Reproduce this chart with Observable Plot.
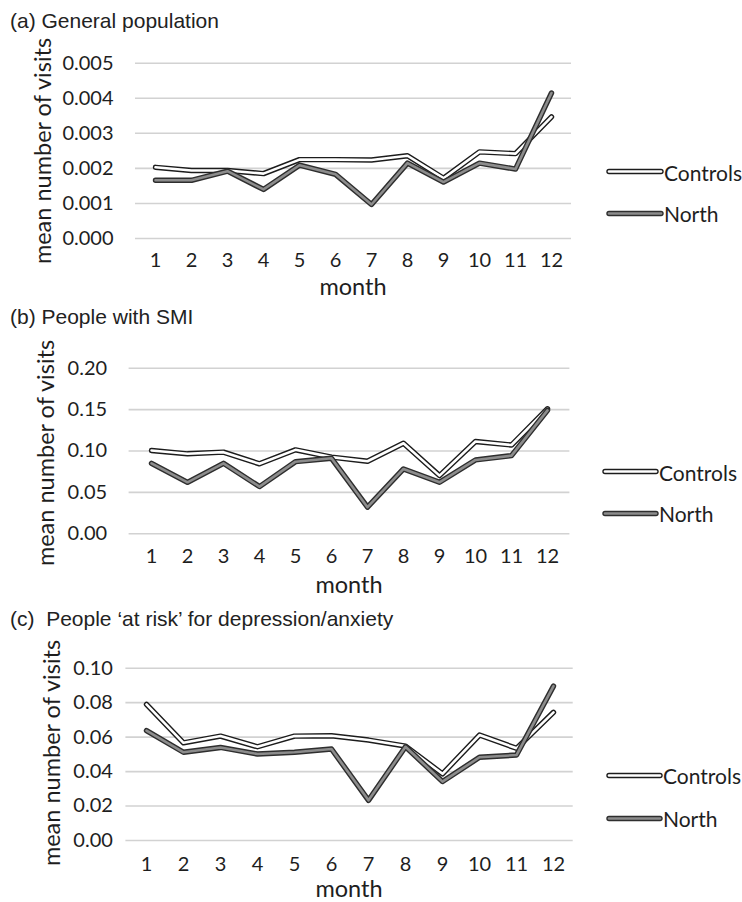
<!DOCTYPE html>
<html>
<head>
<meta charset="utf-8">
<script src="https://cdn.jsdelivr.net/npm/d3@7"></script>
<script src="https://cdn.jsdelivr.net/npm/@observablehq/plot@0.6"></script>
<style>
  body { margin: 0; background: #fff; }
  #root { position: relative; width: 742px; height: 902px; overflow: hidden; font-family: Lato, sans-serif; color: #1e1e1e; }
  .abs { position: absolute; }
  .title { font-family: "Liberation Sans", Arial, sans-serif; font-size: 21px; white-space: pre; transform: translateY(-50%); color: #222; }
  .ylab { font-size: 23.5px; line-height: 1.1; white-space: nowrap; transform: translate(-50%, -50%) rotate(-90deg); }
  .xlab { font-size: 23.5px; line-height: 1; white-space: nowrap; transform: translate(-50%, -50%); }
  .leg { display: flex; align-items: center; font-size: 21px; transform: translateY(-50%); }
  .leg svg { display: block; }
  svg.plot { position: absolute; left: 0; }
</style>
</head>
<body>
<div id="root"></div>
<script>
// ---------- data ----------
const months = [1, 2, 3, 4, 5, 6, 7, 8, 9, 10, 11, 12];
const seriesNames = ["Controls", "North"];

const generalControls = [0.00203, 0.00194, 0.00194, 0.00185, 0.00225, 0.00225, 0.00224, 0.00236, 0.00172, 0.00247, 0.00242, 0.00347];
const generalNorth    = [0.00166, 0.00166, 0.00192, 0.00140, 0.00209, 0.00183, 0.00097, 0.00215, 0.00161, 0.00215, 0.00198, 0.00415];

const smiControls = [0.1006, 0.0966, 0.0986, 0.0845, 0.1014, 0.0926, 0.0876, 0.1094, 0.0703, 0.1114, 0.1072, 0.1510];
const smiNorth    = [0.0851, 0.0622, 0.0851, 0.0570, 0.0871, 0.0912, 0.0321, 0.0783, 0.0622, 0.0892, 0.0944, 0.1490];

const riskControls = [0.0790, 0.0567, 0.0606, 0.0544, 0.0606, 0.0608, 0.0583, 0.0548, 0.0387, 0.0612, 0.0535, 0.0744];
const riskNorth    = [0.0638, 0.0512, 0.0540, 0.0502, 0.0512, 0.0531, 0.0233, 0.0544, 0.0342, 0.0483, 0.0496, 0.0896];

const generalTicks = [0, 0.001, 0.002, 0.003, 0.004, 0.005];
const smiTicks = [0, 0.05, 0.10, 0.15, 0.20];
const riskTicks = [0, 0.02, 0.04, 0.06, 0.08, 0.10];

const panelTitles = [
  "(a) General population",
  "(b) People with SMI",
  "(c)  People \u2018at risk\u2019 for depression/anxiety"
];
const yAxisLabel = "mean number of visits";
const xAxisLabel = "month";

// ---------- styles ----------
const seriesStyle = {
  Controls: { outer: "#1c1c1c", inner: "#ffffff" },
  North:    { outer: "#2e2e2e", inner: "#8c8c8c" }
};
const OUTER_W = 5.4, INNER_W = 2.6;

// ---------- layout ----------
const panels = [
  { title: panelTitles[0], controls: generalControls, north: generalNorth, ticks: generalTicks, fmt: ".3f",
    top: 0, height: 300, mt: 62.7, mb: 62, ml: 135, mr: 742 - 571, tickPad: 22, xPad: 14,
    titleY: 21, ylab: [43, 151], xlab: [353, 287],
    legend: { x: 606, line: 56, items: [171.7, 213] } },
  { title: panelTitles[1], controls: smiControls, north: smiNorth, ticks: smiTicks, fmt: ".2f",
    top: 300, height: 300, mt: 67.7, mb: 66.7, ml: 128.6, mr: 742 - 569.4, tickPad: 22, xPad: 15,
    titleY: 317, ylab: [46, 453], xlab: [349, 585],
    legend: { x: 602, line: 55, items: [471.7, 513] } },
  { title: panelTitles[2], controls: riskControls, north: riskNorth, ticks: riskTicks, fmt: ".2f",
    top: 600, height: 302, mt: 67.7, mb: 62, ml: 125.4, mr: 742 - 572.7, tickPad: 13, xPad: 16,
    titleY: 619, ylab: [52, 753], xlab: [349, 889],
    legend: { x: 606, line: 55, items: [775, 818] } }
];

const root = document.getElementById("root");

function toRows(arr) { return months.map((m, i) => ({ month: m, value: arr[i] })); }

function seriesMarks(rows, name) {
  const s = seriesStyle[name];
  return [
    Plot.line(rows, { x: "month", y: "value", stroke: s.outer, strokeWidth: OUTER_W, strokeLinecap: "round", strokeLinejoin: "round" }),
    Plot.line(rows, { x: "month", y: "value", stroke: s.inner, strokeWidth: INNER_W, strokeLinecap: "round", strokeLinejoin: "round" })
  ];
}

function legendSwatch(name, len) {
  const s = seriesStyle[name];
  const ns = "http://www.w3.org/2000/svg";
  const svg = document.createElementNS(ns, "svg");
  svg.setAttribute("width", len + 2);
  svg.setAttribute("height", 10);
  for (const [c, w] of [[s.outer, OUTER_W], [s.inner, INNER_W]]) {
    const l = document.createElementNS(ns, "line");
    l.setAttribute("x1", 3); l.setAttribute("x2", len - 1);
    l.setAttribute("y1", 5); l.setAttribute("y2", 5);
    l.setAttribute("stroke", c); l.setAttribute("stroke-width", w);
    l.setAttribute("stroke-linecap", "round");
    svg.appendChild(l);
  }
  return svg;
}

for (const p of panels) {
  const chart = Plot.plot({
    width: 742,
    height: p.height,
    marginLeft: p.ml,
    marginRight: p.mr,
    marginTop: p.mt,
    marginBottom: p.mb,
    style: { fontFamily: "Lato, sans-serif", fontSize: "20px", color: "#1e1e1e", background: "transparent", overflow: "visible" },
    x: { type: "point", domain: months, padding: 0.5 },
    y: { domain: [p.ticks[0], p.ticks[p.ticks.length - 1]] },
    marks: [
      Plot.gridY(p.ticks, { stroke: "#d2d2d2", strokeOpacity: 1, strokeWidth: 1.6 }),
      Plot.axisY(p.ticks, { tickSize: 0, tickPadding: p.tickPad, tickFormat: d3.format(p.fmt), label: null, fontSize: 20 }),
      Plot.axisX(months, { tickSize: 0, tickPadding: p.xPad, label: null, fontSize: 20 }),
      ...seriesMarks(toRows(p.controls), "Controls"),
      ...seriesMarks(toRows(p.north), "North")
    ]
  });
  chart.classList.add("plot");
  chart.style.top = p.top + "px";
  root.appendChild(chart);

  const t = document.createElement("div");
  t.className = "abs title";
  t.style.left = "10px"; t.style.top = p.titleY + "px";
  t.textContent = p.title;
  root.appendChild(t);

  const yl = document.createElement("div");
  yl.className = "abs ylab";
  yl.style.left = p.ylab[0] + "px"; yl.style.top = p.ylab[1] + "px";
  yl.textContent = yAxisLabel;
  root.appendChild(yl);

  const xl = document.createElement("div");
  xl.className = "abs xlab";
  xl.style.left = p.xlab[0] + "px"; xl.style.top = p.xlab[1] + "px";
  xl.textContent = xAxisLabel;
  root.appendChild(xl);

  seriesNames.forEach((name, i) => {
    const lg = document.createElement("div");
    lg.className = "abs leg";
    lg.style.left = p.legend.x + "px"; lg.style.top = p.legend.items[i] + "px";
    lg.appendChild(legendSwatch(name, p.legend.line));
    const span = document.createElement("span");
    span.textContent = name;
    lg.appendChild(span);
    root.appendChild(lg);
  });
}
</script>
</body>
</html>
